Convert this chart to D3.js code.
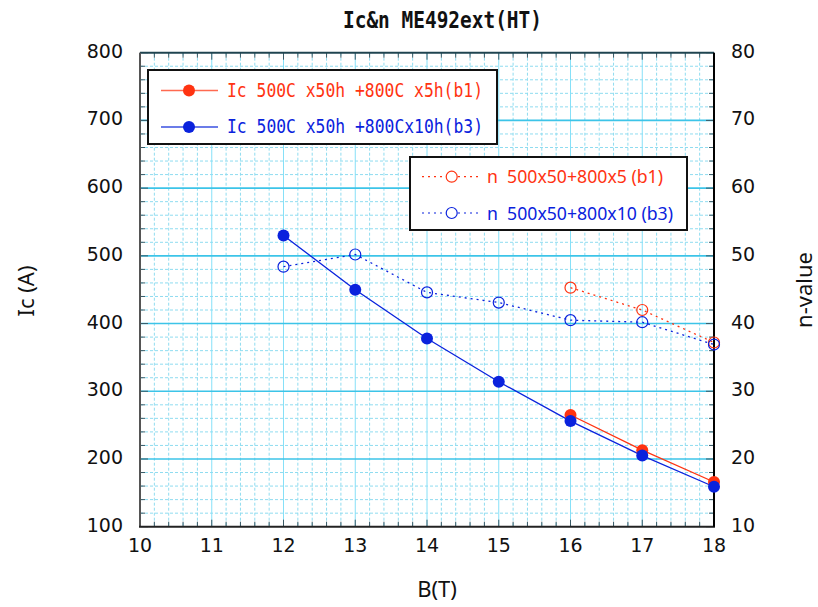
<!DOCTYPE html>
<html><head><meta charset="utf-8">
<script src="https://cdn.jsdelivr.net/npm/d3@7"></script>
<style>body{margin:0;background:#fff}svg{display:block}</style>
</head><body>
<svg id="c" width="818" height="607"></svg>
<script>
const fieldB = [12, 13, 14, 15, 16, 17, 18];
const icB1 = [null, null, null, null, 265, 213, 166];
const icB3 = [530, 450, 378, 314, 256, 205, 159];
const nB1 = [null, null, null, null, 45.3, 42.0, 37.2];
const nB3 = [48.4, 50.2, 44.6, 43.1, 40.5, 40.2, 36.9];
const xTicks = [10, 11, 12, 13, 14, 15, 16, 17, 18];
const icTicks = [100, 200, 300, 400, 500, 600, 700, 800];
const nTicks = [10, 20, 30, 40, 50, 60, 70, 80];
const titleText = "Ic&n ME492ext(HT)";
const icLegend = ["Ic 500C x50h +800C x5h(b1)", "Ic 500C x50h +800Cx10h(b3)"];
const nLegend = ["n  500x50+800x5 (b1)", "n  500x50+800x10 (b3)"];

const RED = "#ff3311", BLUE = "#0a22dd";
const svg = d3.select("#c");
const L = 140, R = 714, T = 52.7, B = 526.7;
const x = d3.scaleLinear().domain([10, 18]).range([L, R]);
const yI = d3.scaleLinear().domain([100, 800]).range([B, T]);
const yN = d3.scaleLinear().domain([10, 80]).range([B, T]);

const g = svg.append("g");
// minor grid
const xMinor = d3.range(10, 18.001, 0.2).filter(v => Math.abs(v - Math.round(v)) > 1e-6);
const yMinor = d3.range(100, 800.001, 20).filter(v => v % 100 !== 0);
g.selectAll(".vm").data(xMinor).join("line")
  .attr("x1", d => x(d)).attr("x2", d => x(d)).attr("y1", T).attr("y2", B)
  .attr("stroke", "#8fdcf0").attr("stroke-width", 1).attr("stroke-dasharray", "3,2");
g.selectAll(".hm").data(yMinor).join("line")
  .attr("y1", d => yI(d)).attr("y2", d => yI(d)).attr("x1", L).attr("x2", R)
  .attr("stroke", "#8fdcf0").attr("stroke-width", 1).attr("stroke-dasharray", "3,2");
// major grid
g.selectAll(".vM").data(xTicks.slice(1, -1)).join("line")
  .attr("x1", d => x(d)).attr("x2", d => x(d)).attr("y1", T).attr("y2", B)
  .attr("stroke", "#86e0f8").attr("stroke-width", 1);
g.selectAll(".hM").data(icTicks.slice(1, -1)).join("line")
  .attr("y1", d => yI(d)).attr("y2", d => yI(d)).attr("x1", L).attr("x2", R)
  .attr("stroke", "#3cc4e8").attr("stroke-width", 1.6);

// inner ticks
const tickCol = "#3a5a66";
const xTickAll = d3.range(10, 18.001, 0.2);
g.selectAll(".tb").data(xTickAll).join("line")
  .attr("x1", d => x(d)).attr("x2", d => x(d)).attr("y1", B).attr("y2", d => B - (Math.abs(d - Math.round(d)) < 1e-6 ? 7 : 5))
  .attr("stroke", tickCol);
g.selectAll(".tt").data(xTickAll).join("line")
  .attr("x1", d => x(d)).attr("x2", d => x(d)).attr("y1", T).attr("y2", d => T + (Math.abs(d - Math.round(d)) < 1e-6 ? 7 : 5))
  .attr("stroke", tickCol);
const yTickAll = d3.range(100, 800.001, 20);
g.selectAll(".tl").data(yTickAll).join("line")
  .attr("y1", d => yI(d)).attr("y2", d => yI(d)).attr("x1", L).attr("x2", d => L + (d % 100 === 0 ? 8 : 5))
  .attr("stroke", tickCol);
g.selectAll(".tr").data(yTickAll).join("line")
  .attr("y1", d => yI(d)).attr("y2", d => yI(d)).attr("x1", R).attr("x2", d => R - (d % 100 === 0 ? 8 : 5))
  .attr("stroke", tickCol);

// frame
svg.append("line").attr("x1", L).attr("x2", R).attr("y1", T).attr("y2", T).attr("stroke", "#1f4450").attr("stroke-width", 2);
svg.append("line").attr("x1", L).attr("x2", L).attr("y1", T).attr("y2", B).attr("stroke", "#555").attr("stroke-width", 2);
svg.append("line").attr("x1", L - 1).attr("x2", R + 1).attr("y1", B).attr("y2", B).attr("stroke", "#222").attr("stroke-width", 2);
svg.append("line").attr("x1", R).attr("x2", R).attr("y1", T).attr("y2", B).attr("stroke", "#000").attr("stroke-width", 2);

// axis labels
const lblFont = "'DejaVu Sans', 'Noto Sans', sans-serif";
const ttlFont = "'Noto Sans', 'DejaVu Sans', sans-serif";
svg.selectAll(".xl").data(xTicks).join("text")
  .attr("x", d => x(d)).attr("y", 551.5).attr("text-anchor", "middle")
  .attr("font-family", lblFont).attr("font-size", 19).attr("fill", "#111").text(d => d);
svg.selectAll(".yl").data(icTicks).join("text")
  .attr("x", 123).attr("y", d => yI(d) + 5).attr("text-anchor", "end")
  .attr("font-family", lblFont).attr("font-size", 19).attr("fill", "#111").text(d => d);
svg.selectAll(".nl").data(nTicks).join("text")
  .attr("x", 731).attr("y", d => yN(d) + 5).attr("text-anchor", "start")
  .attr("font-family", lblFont).attr("font-size", 19).attr("fill", "#111").text(d => d);
svg.append("text").attr("transform", "translate(34,291) rotate(-90)").attr("text-anchor", "middle")
  .attr("font-family", ttlFont).attr("font-size", 22).attr("fill", "#111").text("Ic (A)");
svg.append("text").attr("transform", "translate(812,290) rotate(-90)").attr("text-anchor", "middle")
  .attr("font-family", ttlFont).attr("font-size", 22).attr("fill", "#111").text("n-value");
svg.append("text").attr("x", 437).attr("y", 597).attr("text-anchor", "middle")
  .attr("font-family", ttlFont).attr("font-size", 22).attr("fill", "#111").text("B(T)");
svg.append("text").attr("x", 343).attr("y", 28.3).attr("textLength", 199).attr("lengthAdjust", "spacingAndGlyphs")
  .attr("font-family", "'DejaVu Sans Mono', monospace").attr("font-weight", "bold").attr("font-size", 22.5).attr("fill", "#111").text(titleText);

// series
function pts(vals) { return fieldB.map((b, i) => [b, vals[i]]).filter(p => p[1] != null); }
const lineI = d3.line().x(d => x(d[0])).y(d => yI(d[1]));
const lineN = d3.line().x(d => x(d[0])).y(d => yN(d[1]));
const nSeries = [[nB1, RED], [nB3, BLUE]];
nSeries.forEach(([v, c]) => {
  svg.append("path").attr("d", lineN(pts(v))).attr("fill", "none").attr("stroke", c).attr("stroke-width", 1.3).attr("stroke-dasharray", "2,4");
});
nSeries.forEach(([v, c]) => {
  svg.selectAll(null).data(pts(v)).join("circle").attr("cx", d => x(d[0])).attr("cy", d => yN(d[1])).attr("r", 5.5)
    .attr("fill", "none").attr("stroke", c).attr("stroke-width", 1.2);
});
const iSeries = [[icB1, RED], [icB3, BLUE]];
iSeries.forEach(([v, c]) => {
  svg.append("path").attr("d", lineI(pts(v))).attr("fill", "none").attr("stroke", c).attr("stroke-width", 1.3);
});
iSeries.forEach(([v, c]) => {
  svg.selectAll(null).data(pts(v)).join("circle").attr("cx", d => x(d[0])).attr("cy", d => yI(d[1])).attr("r", 6)
    .attr("fill", c);
});

// legend 1
const lg1 = svg.append("g");
lg1.append("rect").attr("x", 148).attr("y", 70).attr("width", 349).attr("height", 74).attr("fill", "#fff").attr("stroke", "#111").attr("stroke-width", 2);
[[RED, "#ff6a50"], [BLUE, "#3a50e0"]].forEach(([c, lc], i) => {
  const yy = [90.5, 127][i];
  lg1.append("line").attr("x1", 161).attr("x2", 218).attr("y1", yy).attr("y2", yy).attr("stroke", lc).attr("stroke-width", 1.3);
  lg1.append("circle").attr("cx", 189).attr("cy", yy).attr("r", 6).attr("fill", c);
  lg1.append("text").attr("x", 227).attr("y", yy + 6.3).attr("textLength", 256).attr("lengthAdjust", "spacingAndGlyphs")
    .attr("font-family", "'DejaVu Sans Mono', monospace").attr("font-size", 20).attr("fill", c).text(icLegend[i]);
});
// legend 2
const lg2 = svg.append("g");
lg2.append("rect").attr("x", 410).attr("y", 157).attr("width", 277).attr("height", 73).attr("fill", "#fff").attr("stroke", "#111").attr("stroke-width", 2);
[RED, BLUE].forEach((c, i) => {
  const yy = [176.7, 213][i];
  lg2.append("line").attr("x1", 422).attr("x2", 480).attr("y1", yy).attr("y2", yy).attr("stroke", c).attr("stroke-width", 1.2).attr("stroke-dasharray", "2,4");
  lg2.append("circle").attr("cx", 451.7).attr("cy", yy).attr("r", 5.5).attr("fill", "#fff").attr("stroke", c).attr("stroke-width", 1.2);
  lg2.append("text").attr("x", 487).attr("y", yy + 6.5).attr("textLength", [176, 186][i]).attr("lengthAdjust", "spacingAndGlyphs")
    .attr("font-family", ttlFont).attr("font-size", 18).attr("fill", c).style("white-space", "pre").text(nLegend[i]);
});
</script>
</body></html>
